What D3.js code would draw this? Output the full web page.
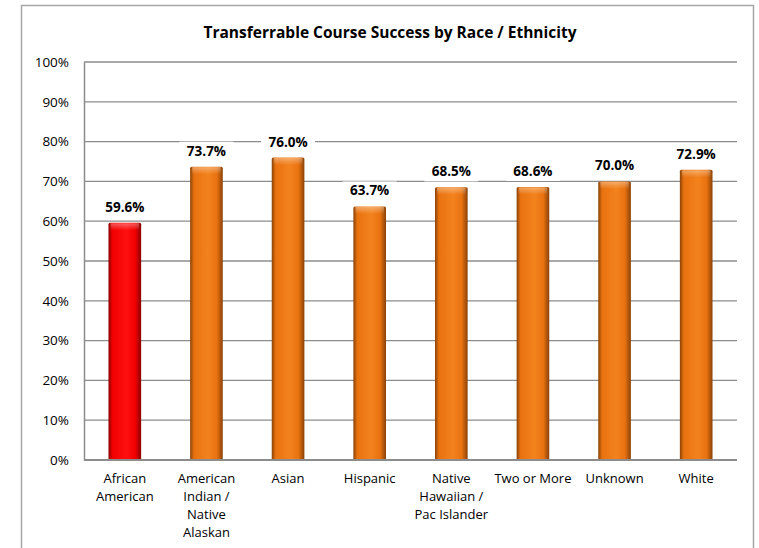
<!DOCTYPE html>
<html>
<head>
<meta charset="utf-8">
<script src="https://cdn.jsdelivr.net/npm/d3@7/dist/d3.min.js"></script>
<style>
  body { margin: 0; background: #fff; }
  text { font-family: "Open Sans", "Liberation Sans", sans-serif; }
</style>
</head>
<body>
<div id="chart"></div>
<script>
var categories = [
    ["African", "American"],
    ["American", "Indian /", "Native", "Alaskan"],
    ["Asian"],
    ["Hispanic"],
    ["Native", "Hawaiian /", "Pac Islander"],
    ["Two or More"],
    ["Unknown"],
    ["White"]
];
var successRates = [59.6, 73.7, 76.0, 63.7, 68.5, 68.6, 70.0, 72.9];
var yTicks = [0, 10, 20, 30, 40, 50, 60, 70, 80, 90, 100];
var chartTitle = "Transferrable Course Success by Race / Ethnicity";

var width = 759, height = 548;
// note: "top" is taken by window.top, so plot edges get their own names
var plotLeft = 84, plotRight = 737, plotTop = 62, plotBottom = 460;

var svg = d3.select("#chart").append("svg")
    .attr("width", width)
    .attr("height", height);

// bevel-ish gradients like the excel bars
var defs = svg.append("defs");
function makeGrad(id, dark, mid, light) {
    var g = defs.append("linearGradient").attr("id", id)
        .attr("x1", "0%").attr("x2", "100%").attr("y1", "0%").attr("y2", "0%");
    g.append("stop").attr("offset", "0%").attr("stop-color", dark);
    g.append("stop").attr("offset", "12%").attr("stop-color", mid);
    g.append("stop").attr("offset", "55%").attr("stop-color", light);
    g.append("stop").attr("offset", "82%").attr("stop-color", mid);
    g.append("stop").attr("offset", "100%").attr("stop-color", dark);
}
makeGrad("gOrange", "#8a4208", "#e8720f", "#f3821d");
makeGrad("gRed", "#8a0000", "#f00000", "#ff1010");
var topGrad = defs.append("linearGradient").attr("id", "gTop")
    .attr("x1", "0%").attr("x2", "0%").attr("y1", "0%").attr("y2", "100%");
topGrad.append("stop").attr("offset", "0%").attr("stop-color", "#fff").attr("stop-opacity", 0.35);
topGrad.append("stop").attr("offset", "100%").attr("stop-color", "#fff").attr("stop-opacity", 0);

svg.append("rect")
    .attr("x", 21.5).attr("y", 5.5)
    .attr("width", 732).attr("height", 560)
    .attr("fill", "none")
    .attr("stroke", "#a6a6a6")
    .attr("stroke-width", 1.5);

svg.append("text")
    .attr("x", 390)
    .attr("y", 38)
    .attr("text-anchor", "middle")
    .style("font-size", "15.5px")
    .style("font-weight", "bold")
    .text(chartTitle);

var x = d3.scaleBand()
    .domain(d3.range(categories.length))
    .range([plotLeft, plotRight])
    .paddingInner(0.6)
    .paddingOuter(0.3);

var y = d3.scaleLinear().domain([0, 100]).range([plotBottom, plotTop]);

// gridlines
svg.selectAll(".grid")
    .data(yTicks.slice(1))
    .enter().append("line")
    .attr("x1", plotLeft).attr("x2", plotRight)
    .attr("y1", function (d) { return y(d); })
    .attr("y2", function (d) { return y(d); })
    .style("stroke", "#8c8c8c")
    .style("stroke-width", 1.3);

var yAxis = svg.append("g")
    .attr("transform", "translate(" + plotLeft + ",0)")
    .call(d3.axisLeft(y).tickValues(yTicks).tickSize(0).tickPadding(15)
        .tickFormat(function (d) { return d + "%"; }));
yAxis.select(".domain").style("stroke", "#8c8c8c").style("stroke-width", 1.5);
yAxis.selectAll("text").style("font-size", "13.5px").attr("fill", "#000");

svg.selectAll(".bar")
    .data(successRates)
    .enter().append("rect")
    .attr("x", function (d, i) { return x(i); })
    .attr("y", function (d) { return y(d); })
    .attr("width", x.bandwidth())
    .attr("height", function (d) { return plotBottom - y(d); })
    .attr("rx", 1.5)
    .style("fill", function (d, i) { return i == 0 ? "url(#gRed)" : "url(#gOrange)"; });

// top bevel highlight
svg.selectAll(".barTop")
    .data(successRates)
    .enter().append("rect")
    .attr("x", function (d, i) { return x(i) + 2; })
    .attr("y", function (d) { return y(d) + 0.5; })
    .attr("width", x.bandwidth() - 4)
    .attr("height", 7)
    .style("fill", "url(#gTop)");

// value labels with white box, like excel (they cut the gridlines)
var labels = svg.selectAll(".val")
    .data(successRates)
    .enter().append("g")
    .attr("transform", function (d, i) {
        return "translate(" + (x(i) + x.bandwidth() / 2) + "," + (y(d) - 11) + ")";
    });
labels.append("rect")
    .attr("x", -27).attr("y", -14)
    .attr("width", 54).attr("height", 19)
    .style("fill", "#fff");
labels.append("text")
    .attr("text-anchor", "middle")
    .style("font-size", "13.5px")
    .style("font-weight", "bold")
    .text(function (d) { return d.toFixed(1) + "%"; });

// baseline
svg.append("line")
    .attr("x1", plotLeft).attr("x2", plotRight)
    .attr("y1", plotBottom).attr("y2", plotBottom)
    .style("stroke", "#8c8c8c")
    .style("stroke-width", 2);

var xl = svg.selectAll(".xlab")
    .data(categories)
    .enter().append("text")
    .attr("text-anchor", "middle")
    .style("font-size", "13px")
    .attr("transform", function (d, i) {
        return "translate(" + (x(i) + x.bandwidth() / 2) + "," + (plotBottom + 23) + ")";
    });
xl.selectAll("tspan")
    .data(function (d) { return d; })
    .enter().append("tspan")
    .attr("x", 0)
    .attr("y", function (d, i) { return i * 18; })
    .text(function (d) { return d; });
</script>
</body>
</html>
